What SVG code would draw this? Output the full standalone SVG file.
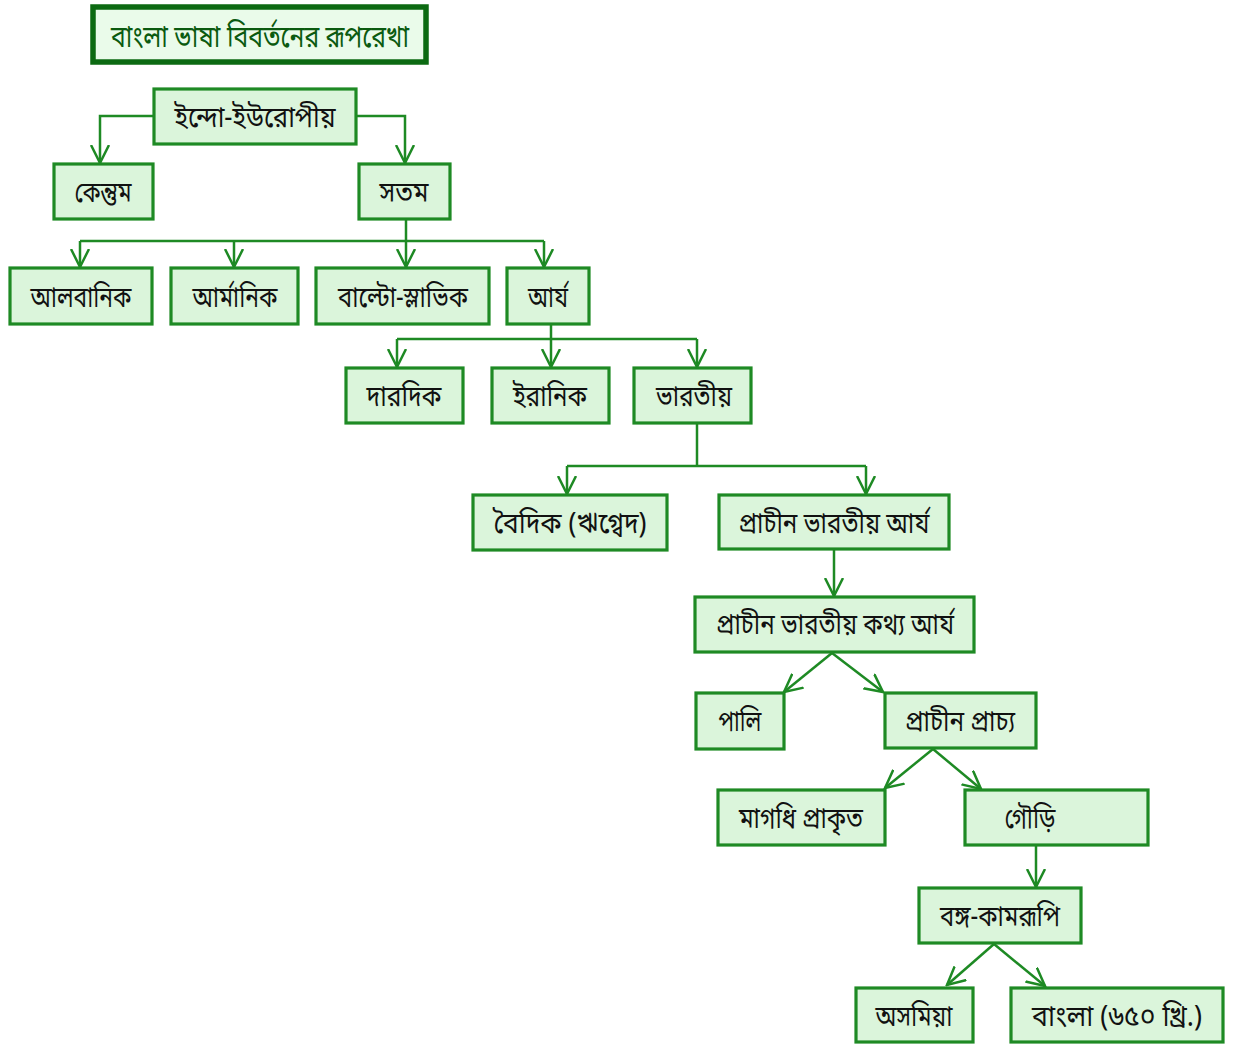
<svg xmlns="http://www.w3.org/2000/svg" width="1235" height="1046" viewBox="0 0 1235 1046">
<defs>
<style>
.box{fill:#dbf5db;stroke:#1e8a24;stroke-width:3.2}
.title{fill:#eafbea;stroke:#0c6a12;stroke-width:5.5}
.t{font-family:"Noto Sans Bengali","Noto Serif Bengali","Lohit Bengali","FreeSans","Noto Sans",sans-serif;font-size:29px;fill:#111;text-anchor:middle}
.tt{font-family:"Noto Sans Bengali","Noto Serif Bengali","Lohit Bengali","FreeSans","Noto Sans",sans-serif;font-size:31px;fill:#0b5a10;text-anchor:middle}
.c{fill:none;stroke:#1e8a24;stroke-width:2.5}
</style>
<marker id="ah" viewBox="0 0 20 20" refX="18" refY="10" markerWidth="20" markerHeight="20" markerUnits="userSpaceOnUse" orient="auto">
<path d="M0,1 L18,10 L0,19" fill="none" stroke="#1e8a24" stroke-width="2.5"/>
</marker>
</defs>
<rect width="1235" height="1046" fill="#ffffff"/>
<g id="connectors">
<path class="c" d="M153,116 H100 V163" marker-end="url(#ah)"/>
<path class="c" d="M357,116 H405 V163" marker-end="url(#ah)"/>
<path class="c" d="M406,220 V241"/>
<path class="c" d="M80,241 H544"/>
<path class="c" d="M80,241 V267" marker-end="url(#ah)"/>
<path class="c" d="M234,241 V267" marker-end="url(#ah)"/>
<path class="c" d="M406,241 V267" marker-end="url(#ah)"/>
<path class="c" d="M544,241 V267" marker-end="url(#ah)"/>
<path class="c" d="M551,325 V339"/>
<path class="c" d="M397,339 H697"/>
<path class="c" d="M397,339 V367" marker-end="url(#ah)"/>
<path class="c" d="M551,339 V367" marker-end="url(#ah)"/>
<path class="c" d="M697,339 V367" marker-end="url(#ah)"/>
<path class="c" d="M697,424 V466"/>
<path class="c" d="M567,466 H866"/>
<path class="c" d="M567,466 V494" marker-end="url(#ah)"/>
<path class="c" d="M866,466 V494" marker-end="url(#ah)"/>
<path class="c" d="M834,550 V596" marker-end="url(#ah)"/>
<path class="c" d="M832,653 L784,692" marker-end="url(#ah)"/>
<path class="c" d="M832,653 L883,692" marker-end="url(#ah)"/>
<path class="c" d="M933,749 L885,788" marker-end="url(#ah)"/>
<path class="c" d="M933,749 L981,789" marker-end="url(#ah)"/>
<path class="c" d="M1036,845 V887" marker-end="url(#ah)"/>
<path class="c" d="M994,944 L947,985" marker-end="url(#ah)"/>
<path class="c" d="M994,944 L1045,986" marker-end="url(#ah)"/>
</g>
<g id="n-title"><rect class="title" x="93" y="7" width="333" height="55"/><text class="tt" x="260" y="47" textLength="298" lengthAdjust="spacingAndGlyphs">বাংলা ভাষা বিবর্তনের রূপরেখা</text></g>
<g id="n-indo"><rect class="box" x="154" y="89" width="202" height="55"/><text class="t" x="255" y="127" textLength="161" lengthAdjust="spacingAndGlyphs">ইন্দো-ইউরোপীয়</text></g>
<g id="n-kentum"><rect class="box" x="54" y="164" width="99" height="55"/><text class="t" x="103" y="202" textLength="57" lengthAdjust="spacingAndGlyphs">কেন্তুম</text></g>
<g id="n-satam"><rect class="box" x="359" y="164" width="91" height="55"/><text class="t" x="404" y="202" textLength="49" lengthAdjust="spacingAndGlyphs">সতম</text></g>
<g id="n-albanik"><rect class="box" x="10" y="268" width="142" height="56"/><text class="t" x="81" y="307" textLength="101" lengthAdjust="spacingAndGlyphs">আলবানিক</text></g>
<g id="n-armanik"><rect class="box" x="171" y="268" width="127" height="56"/><text class="t" x="235" y="307" textLength="85" lengthAdjust="spacingAndGlyphs">আর্মানিক</text></g>
<g id="n-balto"><rect class="box" x="316" y="268" width="173" height="56"/><text class="t" x="403" y="307" textLength="130" lengthAdjust="spacingAndGlyphs">বাল্টো-স্লাভিক</text></g>
<g id="n-arya"><rect class="box" x="507" y="268" width="82" height="56"/><text class="t" x="548" y="307" textLength="40" lengthAdjust="spacingAndGlyphs">আর্য</text></g>
<g id="n-dardik"><rect class="box" x="346" y="368" width="117" height="55"/><text class="t" x="404" y="406" textLength="75" lengthAdjust="spacingAndGlyphs">দারদিক</text></g>
<g id="n-iranik"><rect class="box" x="492" y="368" width="117" height="55"/><text class="t" x="550" y="406" textLength="74" lengthAdjust="spacingAndGlyphs">ইরানিক</text></g>
<g id="n-bharatiya"><rect class="box" x="634" y="368" width="117" height="55"/><text class="t" x="694" y="406" textLength="76" lengthAdjust="spacingAndGlyphs">ভারতীয়</text></g>
<g id="n-vedic"><rect class="box" x="473" y="495" width="194" height="55"/><text class="t" x="570" y="533" textLength="153" lengthAdjust="spacingAndGlyphs">বৈদিক (ঋগ্বেদ)</text></g>
<g id="n-oia"><rect class="box" x="719" y="495" width="230" height="54"/><text class="t" x="834" y="533" textLength="191" lengthAdjust="spacingAndGlyphs">প্রাচীন ভারতীয় আর্য</text></g>
<g id="n-oia-spoken"><rect class="box" x="695" y="597" width="279" height="55"/><text class="t" x="835" y="634" textLength="238" lengthAdjust="spacingAndGlyphs">প্রাচীন ভারতীয় কথ্য আর্য</text></g>
<g id="n-pali"><rect class="box" x="696" y="693" width="88" height="56"/><text class="t" x="740" y="731" textLength="43" lengthAdjust="spacingAndGlyphs">পালি</text></g>
<g id="n-prachya"><rect class="box" x="885" y="693" width="151" height="55"/><text class="t" x="960" y="731" textLength="110" lengthAdjust="spacingAndGlyphs">প্রাচীন প্রাচ্য</text></g>
<g id="n-magadhi"><rect class="box" x="718" y="790" width="167" height="55"/><text class="t" x="801" y="828" textLength="124" lengthAdjust="spacingAndGlyphs">মাগধি প্রাকৃত</text></g>
<g id="n-gaudi"><rect class="box" x="965" y="790" width="183" height="55"/><text class="t" x="1030" y="828" textLength="51" lengthAdjust="spacingAndGlyphs">গৌড়ি</text></g>
<g id="n-banga"><rect class="box" x="919" y="888" width="162" height="55"/><text class="t" x="1000" y="926" textLength="120" lengthAdjust="spacingAndGlyphs">বঙ্গ-কামরূপি</text></g>
<g id="n-asamiya"><rect class="box" x="856" y="988" width="117" height="54"/><text class="t" x="914" y="1026" textLength="77" lengthAdjust="spacingAndGlyphs">অসমিয়া</text></g>
<g id="n-bangla"><rect class="box" x="1011" y="988" width="212" height="54"/><text class="t" x="1117" y="1026" textLength="170" lengthAdjust="spacingAndGlyphs">বাংলা (৬৫০ খ্রি.)</text></g>
</svg>
